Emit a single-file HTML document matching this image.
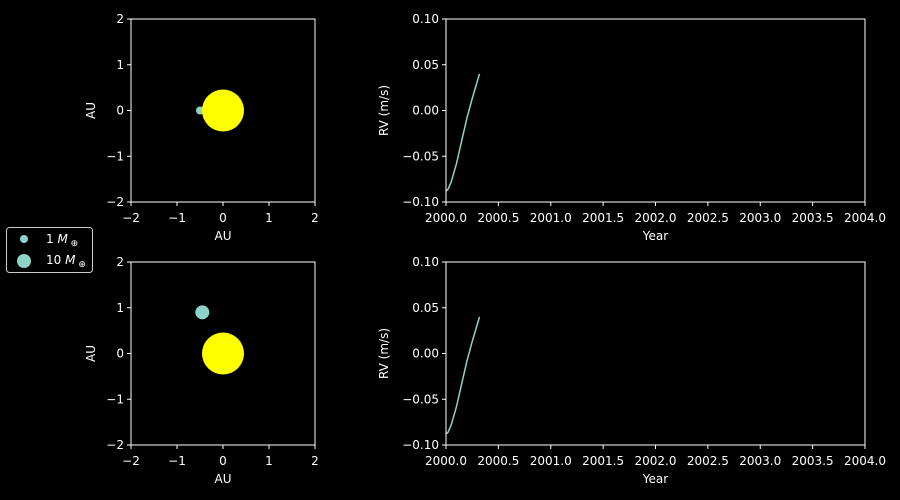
<!DOCTYPE html>
<html><head><meta charset="utf-8"><style>
html,body{margin:0;background:#000;overflow:hidden;width:900px;height:500px;}
svg{display:block;}
svg text{font-family:"DejaVu Sans","Liberation Sans",sans-serif;fill:#fff;font-size:12px;}
</style></head><body>
<svg id="fig" width="900" height="500" xmlns="http://www.w3.org/2000/svg">
<rect width="900" height="500" fill="#000"/>
<g id="root"></g>
<g>
<rect x="6.5" y="227.5" width="86" height="45" rx="3" fill="#000" stroke="#ccc" stroke-width="1"/>
<circle cx="24" cy="239" r="4" fill="#8dd3c7"/>
<text x="46" y="243">1 <tspan font-style="italic">M</tspan><tspan font-size="9" dy="3"> ⊕</tspan></text>
<circle cx="24" cy="261" r="7" fill="#8dd3c7"/>
<text x="46" y="264">10 <tspan font-style="italic">M</tspan><tspan font-size="9" dy="3"> ⊕</tspan></text>
</g>
</svg>
<script>
const orbitTicks=[-2,-1,0,1,2];
const orbitTickLabels=["−2","−1","0","1","2"];
const rvYTicks=[-0.10,-0.05,0.00,0.05,0.10];
const rvYTickLabels=["−0.10","−0.05","0.00","0.05","0.10"];
const yearTicks=[2000.0,2000.5,2001.0,2001.5,2002.0,2002.5,2003.0,2003.5,2004.0];
const rvTimes=[2000.0,2000.02,2000.05,2000.1,2000.15,2000.2,2000.25,2000.32];
const rvValues=[-0.088,-0.086,-0.078,-0.058,-0.033,-0.008,0.013,0.040];
const planetTop=[-0.5,0.0];
const planetBottom=[-0.45,0.9];
const planetRadii=[4,7];
const sunPos=[0,0];

const NS="http://www.w3.org/2000/svg";
const root=document.getElementById('root');
function mk(tag,attrs,parent){const e=document.createElementNS(NS,tag);for(const k in attrs)e.setAttribute(k,attrs[k]);(parent||root).appendChild(e);return e;}
function txt(x,y,s,anchor,parent,rot){const t=mk('text',{x:x,y:y,'text-anchor':anchor||'middle'},parent);if(rot)t.setAttribute('transform',`rotate(-90 ${x} ${y})`);t.textContent=s;return t;}

function orbitPanel(top,planet,pr,name){
  const L=131,R=315,T=top,B=top+183;
  const sx=v=>L+(v+2)/4*(R-L), sy=v=>B-(v+2)/4*(B-T);
  const g=mk('g',{});
  
  
  const p=mk('circle',{cx:sx(planet[0]),cy:sy(planet[1]),r:pr,fill:'#8dd3c7'},g);
  
  
  const s=mk('circle',{cx:sx(sunPos[0]),cy:sy(sunPos[1]),r:21,fill:'#ffff00'},g);
  
  
  mk('rect',{x:L,y:T,width:R-L,height:B-T,fill:'none',stroke:'#fff','stroke-width':1},g);
  orbitTicks.forEach((v,i)=>{
    mk('line',{x1:sx(v),x2:sx(v),y1:B,y2:B+4,stroke:'#fff'},g);
    txt(sx(v),B+20,orbitTickLabels[i],'middle',g);
    mk('line',{x1:L-4,x2:L,y1:sy(v),y2:sy(v),stroke:'#fff'},g);
    txt(L-7,sy(v)+4,orbitTickLabels[i],'end',g);
  });
  const xl=txt((L+R)/2,B+38,'AU','middle',g);
  
  
  const yl=txt(95,(T+B)/2,'AU','middle',g,true);
  
  
}
function rvPanel(top,name){
  const L=446,R=865,T=top,B=top+183;
  const sx=v=>L+(v-2000)/4*(R-L), sy=v=>B-(v+0.1)/0.2*(B-T);
  const g=mk('g',{});
  
  
  const d=rvTimes.map((t,i)=>(i?'L':'M')+sx(t).toFixed(1)+','+sy(rvValues[i]).toFixed(1)).join('');
  const l=mk('path',{d:d,fill:'none',stroke:'#8dd3c7','stroke-width':1.5},g);
  
  
  mk('rect',{x:L,y:T,width:R-L,height:B-T,fill:'none',stroke:'#fff','stroke-width':1},g);
  yearTicks.forEach(v=>{
    mk('line',{x1:sx(v),x2:sx(v),y1:B,y2:B+4,stroke:'#fff'},g);
    txt(sx(v),B+20,v.toFixed(1),'middle',g);
  });
  rvYTicks.forEach((v,i)=>{
    mk('line',{x1:L-4,x2:L,y1:sy(v),y2:sy(v),stroke:'#fff'},g);
    txt(L-7,sy(v)+4,rvYTickLabels[i],'end',g);
  });
  const xl=txt((L+R)/2,B+38,'Year','middle',g);
  
  
  const yl=txt(388,(T+B)/2,'RV (m/s)','middle',g,true);
  
  
}
orbitPanel(19,planetTop,planetRadii[0],'orbit-panel-top');
orbitPanel(262,planetBottom,planetRadii[1],'orbit-panel-bottom');
rvPanel(19,'rv-panel-top');
rvPanel(262,'rv-panel-bottom');
</script>
</body></html>
